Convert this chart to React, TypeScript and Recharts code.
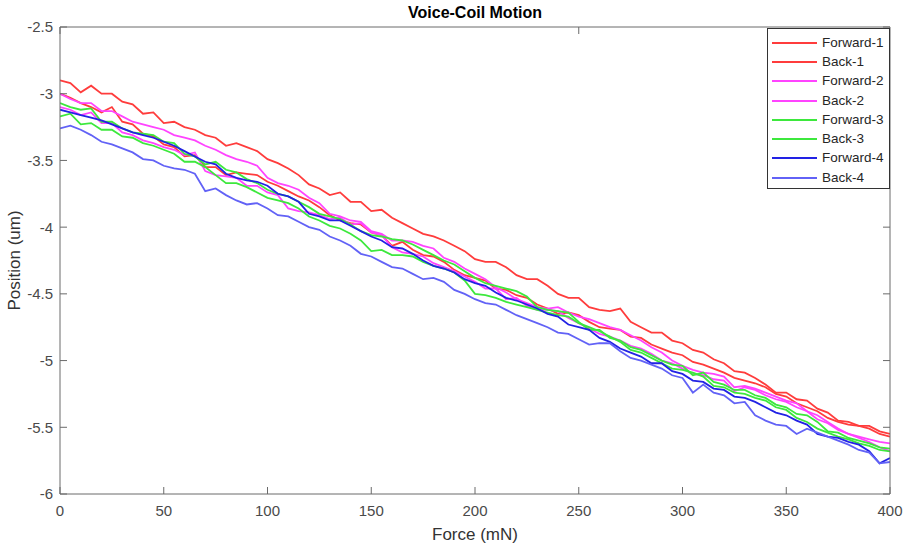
import React from 'react';
import { LineChart, Line, XAxis, YAxis, Legend } from 'recharts';

const forces = [
  0, 5, 10, 15, 20, 25, 30, 35, 40, 45,
  50, 55, 60, 65, 70, 75, 80, 85, 90, 95,
  100, 105, 110, 115, 120, 125, 130, 135, 140, 145,
  150, 155, 160, 165, 170, 175, 180, 185, 190, 195,
  200, 205, 210, 215, 220, 225, 230, 235, 240, 245,
  250, 255, 260, 265, 270, 275, 280, 285, 290, 295,
  300, 305, 310, 315, 320, 325, 330, 335, 340, 345,
  350, 355, 360, 365, 370, 375, 380, 385, 390, 395,
  400,
];

const forward1 = [
  -2.90, -2.92, -2.99, -2.94, -3.00, -3.00, -3.06, -3.08, -3.15, -3.14,
  -3.22, -3.21, -3.25, -3.27, -3.31, -3.33, -3.39, -3.37, -3.40, -3.43,
  -3.49, -3.52, -3.56, -3.61, -3.68, -3.71, -3.76, -3.74, -3.81, -3.81,
  -3.88, -3.87, -3.93, -3.97, -4.01, -4.05, -4.07, -4.10, -4.14, -4.18,
  -4.24, -4.26, -4.26, -4.30, -4.36, -4.39, -4.39, -4.44, -4.50, -4.53,
  -4.53, -4.60, -4.62, -4.63, -4.61, -4.71, -4.75, -4.79, -4.79, -4.85,
  -4.87, -4.92, -4.94, -4.99, -5.02, -5.08, -5.09, -5.13, -5.18, -5.24,
  -5.24, -5.29, -5.30, -5.36, -5.39, -5.45, -5.46, -5.49, -5.49, -5.53,
  -5.55,
];

const back1 = [
  -3.00, -3.03, -3.07, -3.10, -3.14, -3.10, -3.21, -3.23, -3.30, -3.32,
  -3.38, -3.40, -3.47, -3.46, -3.55, -3.55, -3.61, -3.59, -3.60, -3.61,
  -3.66, -3.69, -3.73, -3.77, -3.80, -3.85, -3.91, -3.95, -3.97, -3.98,
  -4.04, -4.06, -4.14, -4.11, -4.17, -4.21, -4.22, -4.26, -4.32, -4.36,
  -4.38, -4.40, -4.46, -4.47, -4.51, -4.53, -4.58, -4.61, -4.65, -4.64,
  -4.66, -4.71, -4.75, -4.76, -4.77, -4.82, -4.83, -4.88, -4.91, -4.94,
  -4.96, -5.01, -5.03, -5.06, -5.09, -5.13, -5.15, -5.17, -5.20, -5.25,
  -5.27, -5.32, -5.35, -5.38, -5.43, -5.46, -5.48, -5.49, -5.51, -5.55,
  -5.57,
];

const forward2 = [
  -3.00, -3.04, -3.07, -3.07, -3.13, -3.13, -3.17, -3.21, -3.23, -3.25,
  -3.27, -3.31, -3.33, -3.35, -3.39, -3.42, -3.46, -3.49, -3.51, -3.54,
  -3.63, -3.67, -3.69, -3.72, -3.78, -3.82, -3.90, -3.92, -3.95, -3.96,
  -4.03, -4.05, -4.10, -4.10, -4.11, -4.14, -4.16, -4.23, -4.26, -4.31,
  -4.35, -4.39, -4.45, -4.49, -4.54, -4.57, -4.60, -4.61, -4.60, -4.64,
  -4.67, -4.69, -4.72, -4.75, -4.77, -4.81, -4.85, -4.90, -4.94, -5.00,
  -5.04, -5.07, -5.09, -5.10, -5.12, -5.20, -5.19, -5.21, -5.24, -5.27,
  -5.30, -5.32, -5.38, -5.41, -5.46, -5.51, -5.55, -5.57, -5.59, -5.61,
  -5.62,
];

const back2 = [
  -3.10, -3.12, -3.16, -3.14, -3.22, -3.22, -3.29, -3.31, -3.35, -3.37,
  -3.40, -3.42, -3.46, -3.44, -3.58, -3.61, -3.62, -3.63, -3.69, -3.69,
  -3.74, -3.76, -3.86, -3.88, -3.89, -3.91, -3.94, -3.93, -3.98, -3.97,
  -4.04, -4.06, -4.15, -4.19, -4.20, -4.22, -4.27, -4.30, -4.33, -4.37,
  -4.41, -4.46, -4.46, -4.54, -4.53, -4.59, -4.62, -4.62, -4.63, -4.68,
  -4.72, -4.76, -4.80, -4.82, -4.85, -4.89, -4.91, -4.95, -5.00, -5.02,
  -5.06, -5.10, -5.11, -5.14, -5.15, -5.23, -5.20, -5.22, -5.26, -5.29,
  -5.31, -5.35, -5.38, -5.44, -5.47, -5.52, -5.55, -5.58, -5.61, -5.65,
  -5.68,
];

const forward3 = [
  -3.07, -3.10, -3.12, -3.11, -3.21, -3.21, -3.26, -3.29, -3.30, -3.31,
  -3.36, -3.37, -3.45, -3.47, -3.53, -3.51, -3.57, -3.59, -3.64, -3.67,
  -3.72, -3.75, -3.77, -3.81, -3.85, -3.90, -3.92, -3.94, -3.98, -4.03,
  -4.06, -4.07, -4.09, -4.10, -4.13, -4.17, -4.21, -4.25, -4.28, -4.33,
  -4.38, -4.42, -4.44, -4.46, -4.48, -4.52, -4.60, -4.62, -4.63, -4.64,
  -4.71, -4.77, -4.77, -4.83, -4.85, -4.90, -4.92, -4.96, -5.00, -5.03,
  -5.04, -5.11, -5.09, -5.16, -5.18, -5.22, -5.22, -5.26, -5.28, -5.33,
  -5.35, -5.40, -5.41, -5.46, -5.53, -5.54, -5.58, -5.60, -5.62, -5.65,
  -5.66,
];

const back3 = [
  -3.17, -3.15, -3.23, -3.22, -3.27, -3.27, -3.32, -3.33, -3.37, -3.39,
  -3.42, -3.45, -3.51, -3.51, -3.55, -3.61, -3.67, -3.67, -3.70, -3.74,
  -3.78, -3.80, -3.82, -3.86, -3.92, -3.95, -3.99, -4.01, -4.05, -4.10,
  -4.18, -4.17, -4.21, -4.21, -4.22, -4.26, -4.29, -4.31, -4.34, -4.40,
  -4.50, -4.51, -4.53, -4.56, -4.58, -4.60, -4.62, -4.64, -4.66, -4.67,
  -4.72, -4.75, -4.78, -4.82, -4.86, -4.92, -4.94, -4.98, -5.02, -5.06,
  -5.07, -5.09, -5.12, -5.19, -5.20, -5.24, -5.25, -5.28, -5.30, -5.35,
  -5.37, -5.43, -5.46, -5.51, -5.54, -5.57, -5.59, -5.62, -5.64, -5.67,
  -5.68,
];

const forward4 = [
  -3.12, -3.14, -3.16, -3.18, -3.20, -3.23, -3.26, -3.29, -3.31, -3.33,
  -3.36, -3.39, -3.43, -3.47, -3.51, -3.53, -3.60, -3.63, -3.65, -3.66,
  -3.69, -3.75, -3.77, -3.81, -3.90, -3.92, -3.95, -3.95, -3.99, -4.03,
  -4.07, -4.10, -4.15, -4.16, -4.20, -4.25, -4.29, -4.31, -4.34, -4.39,
  -4.42, -4.44, -4.49, -4.53, -4.55, -4.58, -4.61, -4.65, -4.67, -4.73,
  -4.75, -4.77, -4.83, -4.86, -4.91, -4.94, -4.97, -5.02, -5.02, -5.08,
  -5.10, -5.15, -5.16, -5.21, -5.22, -5.27, -5.28, -5.31, -5.35, -5.39,
  -5.41, -5.45, -5.48, -5.55, -5.57, -5.58, -5.61, -5.63, -5.68, -5.77,
  -5.73,
];

const back4 = [
  -3.26, -3.24, -3.27, -3.31, -3.36, -3.38, -3.41, -3.44, -3.49, -3.50,
  -3.54, -3.56, -3.57, -3.60, -3.73, -3.71, -3.76, -3.80, -3.83, -3.82,
  -3.86, -3.91, -3.92, -3.96, -4.00, -4.02, -4.07, -4.10, -4.14, -4.20,
  -4.22, -4.26, -4.30, -4.31, -4.35, -4.39, -4.38, -4.41, -4.47, -4.50,
  -4.54, -4.57, -4.58, -4.62, -4.66, -4.69, -4.72, -4.75, -4.79, -4.80,
  -4.84, -4.88, -4.87, -4.87, -4.93, -4.98, -5.00, -5.03, -5.06, -5.11,
  -5.13, -5.24, -5.18, -5.24, -5.26, -5.32, -5.31, -5.41, -5.45, -5.48,
  -5.49, -5.55, -5.51, -5.54, -5.57, -5.60, -5.63, -5.67, -5.69, -5.77,
  -5.76,
];

const seriesNames = ['Forward-1', 'Back-1', 'Forward-2', 'Back-2', 'Forward-3', 'Back-3', 'Forward-4', 'Back-4'];
const seriesValues = [forward1, back1, forward2, back2, forward3, back3, forward4, back4];
const seriesColors = ['#ff3c3c', '#ff3c3c', '#ff44ff', '#ff44ff', '#3de83d', '#3de83d', '#2222e4', '#6262f6'];

const xTicks = [0, 50, 100, 150, 200, 250, 300, 350, 400];
const yTicks = [-6, -5.5, -5, -4.5, -4, -3.5, -3, -2.5];

const chartTitle = 'Voice-Coil Motion';
const xLabel = 'Force (mN)';
const yLabel = 'Position (um)';

const data = forces.map((f, i) => {
  const row: Record<string, number> = { force: f };
  seriesValues.forEach((vals, k) => {
    row['s' + k] = vals[i];
  });
  return row;
});

const FONT = '"Liberation Sans", Arial, Helvetica, sans-serif';
const AXIS_COLOR = '#6a6a6a';
const TICK_TEXT = '#4a4a4a';
const TICK_LEN = 7;
const BOTTOM_GAP = 11;
const LEFT_GAP = 7;

const BottomTick = (props: any) => {
  const { x, y, payload } = props;
  const axisY = y - BOTTOM_GAP;
  return (
    <g>
      <line x1={x} x2={x} y1={axisY} y2={axisY - TICK_LEN} stroke={AXIS_COLOR} strokeWidth={1} />
      <text x={x} y={y} dy="0.71em" textAnchor="middle" fontFamily={FONT} fontSize={15} fill={TICK_TEXT}>
        {payload.value}
      </text>
    </g>
  );
};

const LeftTick = (props: any) => {
  const { x, y, payload } = props;
  const axisX = x + LEFT_GAP;
  return (
    <g>
      <line x1={axisX} x2={axisX + TICK_LEN} y1={y} y2={y} stroke={AXIS_COLOR} strokeWidth={1} />
      <text x={x} y={y} dy="0.36em" textAnchor="end" fontFamily={FONT} fontSize={15} fill={TICK_TEXT}>
        {payload.value}
      </text>
    </g>
  );
};

const TopTick = (props: any) => {
  const { x, y } = props;
  return <line x1={x} x2={x} y1={y} y2={y + TICK_LEN} stroke={AXIS_COLOR} strokeWidth={1} />;
};

const RightTick = (props: any) => {
  const { x, y } = props;
  return <line x1={x} x2={x - TICK_LEN} y1={y} y2={y} stroke={AXIS_COLOR} strokeWidth={1} />;
};

const TitleLabel = (props: any) => {
  const vb = props.viewBox || { x: 60, width: 830 };
  return (
    <text x={vb.x + vb.width / 2} y={18} textAnchor="middle" fontFamily={FONT} fontSize={16} fontWeight="bold" fill="#000">
      {chartTitle}
    </text>
  );
};

const XLabel = (props: any) => {
  const vb = props.viewBox || { x: 60, width: 830 };
  return (
    <text x={vb.x + vb.width / 2} y={540} textAnchor="middle" fontFamily={FONT} fontSize={17} fill="#333">
      {xLabel}
    </text>
  );
};

const YLabel = (props: any) => {
  const vb = props.viewBox || { y: 27, height: 467 };
  const cy = vb.y + vb.height / 2;
  return (
    <text x={20} y={cy} transform={`rotate(-90, 20, ${cy})`} textAnchor="middle" fontFamily={FONT} fontSize={17} fill="#333">
      {yLabel}
    </text>
  );
};

const renderLegend = () => (
  <div
    style={{
      width: 123,
      height: 161,
      boxSizing: 'border-box',
      border: '1px solid #333',
      background: '#fff',
      padding: '4px 0 0 4px',
      fontFamily: FONT,
      fontSize: 13.5,
      color: '#262626',
    }}
  >
    {seriesNames.map((name, k) => (
      <div key={name} style={{ display: 'flex', alignItems: 'center', height: 19.3, whiteSpace: 'nowrap' }}>
        <svg width={46} height={6} style={{ display: 'block' }}>
          <line x1={0} x2={45} y1={3} y2={3} stroke={seriesColors[k]} strokeWidth={1.8} />
        </svg>
        <span style={{ marginLeft: 4, lineHeight: '16px' }}>{name}</span>
      </div>
    ))}
  </div>
);

export default function App() {
  return (
    <div style={{ position: 'absolute', left: 0, top: 0, width: 904, height: 545, background: '#fff' }}>
      <LineChart width={904} height={545} data={data} margin={{ top: 26, right: 13, bottom: 0, left: 0 }}>
        <XAxis
          dataKey="force"
          type="number"
          domain={[0, 400]}
          ticks={xTicks}
          interval={0}
          allowDataOverflow
          height={51}
          tickSize={0}
          tickMargin={BOTTOM_GAP}
          axisLine={{ stroke: AXIS_COLOR }}
          tickLine={false}
          tick={<BottomTick />}
          label={XLabel}
        />
        <XAxis
          xAxisId="top"
          orientation="top"
          type="number"
          domain={[0, 400]}
          ticks={xTicks}
          interval={0}
          allowDataOverflow
          height={1}
          tickSize={0}
          tickMargin={0}
          axisLine={{ stroke: AXIS_COLOR }}
          tickLine={false}
          tick={<TopTick />}
          label={TitleLabel}
        />
        <YAxis
          type="number"
          domain={[-6, -2.5]}
          ticks={yTicks}
          interval={0}
          allowDataOverflow
          width={60}
          tickSize={0}
          tickMargin={LEFT_GAP}
          axisLine={{ stroke: AXIS_COLOR }}
          tickLine={false}
          tick={<LeftTick />}
          label={YLabel}
        />
        <YAxis
          yAxisId="right"
          orientation="right"
          type="number"
          domain={[-6, -2.5]}
          ticks={yTicks}
          interval={0}
          allowDataOverflow
          width={1}
          tickSize={0}
          tickMargin={0}
          axisLine={{ stroke: AXIS_COLOR }}
          tickLine={false}
          tick={<RightTick />}
        />
        {seriesNames.map((name, k) => (
          <Line
            key={name}
            name={name}
            dataKey={'s' + k}
            type="linear"
            stroke={seriesColors[k]}
            strokeWidth={1.8}
            dot={false}
            activeDot={false}
            isAnimationActive={false}
          />
        ))}
        <Legend
          layout="vertical"
          align="center"
          verticalAlign="middle"
          content={renderLegend}
          wrapperStyle={{ left: 767, top: 28, width: 123, height: 161 }}
        />
      </LineChart>
    </div>
  );
}
